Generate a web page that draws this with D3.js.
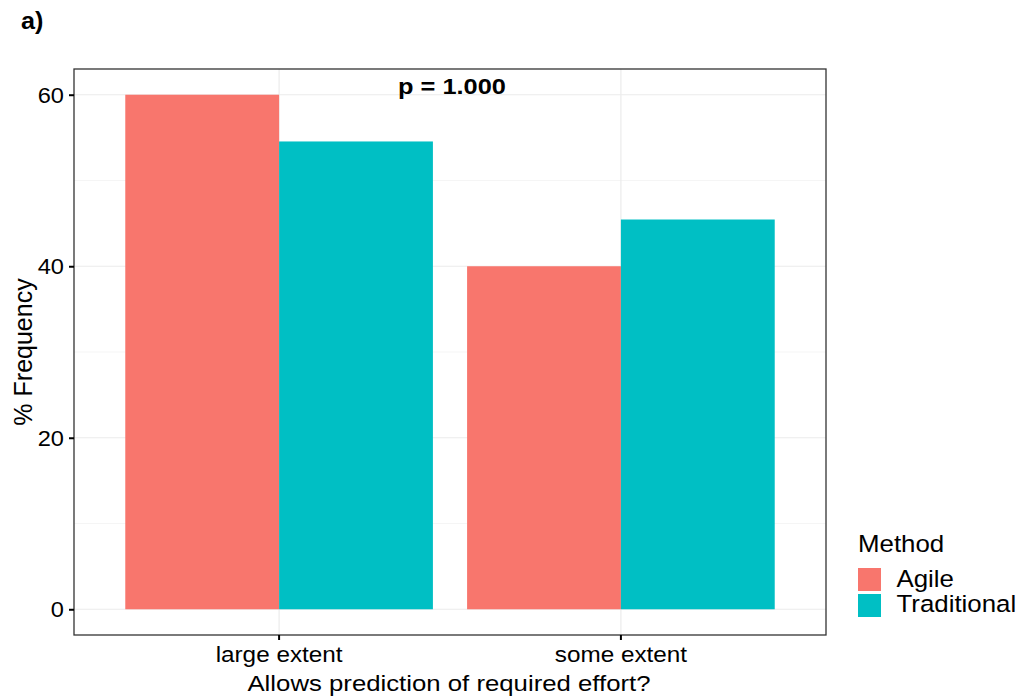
<!DOCTYPE html>
<html>
<head>
<meta charset="utf-8">
<script src="https://cdn.jsdelivr.net/npm/d3@7"></script>
<style>
  html, body { margin: 0; padding: 0; background: #fff; }
  svg { display: block; font-family: "Liberation Sans", Arial, sans-serif; }
</style>
</head>
<body>
<svg id="chart" width="1024" height="697"></svg>
<script>
// Response categories and the share of each method (in %)
const categories = ["large extent", "some extent"];
const methods = ["Agile", "Traditional"];
const agileValues = [60, 40];
const traditionalValues = [54.55, 45.45];
const yTicks = [0, 20, 40, 60];
const yMinorTicks = [10, 30, 50];
const methodColors = ["#F8766D", "#00BFC4"];
const pLabel = "p = 1.000";

const rows = categories.map((c, i) => ({
  category: c,
  values: [
    { method: methods[0], value: agileValues[i] },
    { method: methods[1], value: traditionalValues[i] }
  ]
}));

const svg = d3.select("#chart");
const panel = { left: 74, right: 826, top: 69, bottom: 635 };

// horizontal text is drawn slightly widened
function stretchedText(g, x, y, txt, size, sx, anchor, weight) {
  return g.append("text")
    .attr("transform", `translate(${x},${y}) scale(${sx},1)`)
    .attr("text-anchor", anchor)
    .attr("font-size", size)
    .attr("font-weight", weight || "normal")
    .attr("fill", "#000")
    .text(txt);
}

const x = d3.scaleBand()
  .domain(categories)
  .range([panel.left, panel.right])
  .paddingInner(0.1)
  .paddingOuter(0.15);

const xInner = d3.scaleBand()
  .domain(methods)
  .range([0, x.bandwidth()]);

const y = d3.scaleLinear()
  .domain([-3, 63])
  .range([panel.bottom, panel.top]);

const color = d3.scaleOrdinal().domain(methods).range(methodColors);

// panel background + grid
svg.append("rect")
  .attr("x", panel.left).attr("y", panel.top)
  .attr("width", panel.right - panel.left).attr("height", panel.bottom - panel.top)
  .attr("fill", "#fff");

const grid = svg.append("g");
grid.selectAll("line.minor").data(yMinorTicks).join("line")
  .attr("x1", panel.left).attr("x2", panel.right)
  .attr("y1", d => y(d)).attr("y2", d => y(d))
  .attr("stroke", "#f2f2f2").attr("stroke-width", 0.8);
grid.selectAll("line.major").data(yTicks).join("line")
  .attr("x1", panel.left).attr("x2", panel.right)
  .attr("y1", d => y(d)).attr("y2", d => y(d))
  .attr("stroke", "#ebebeb").attr("stroke-width", 1.2);
grid.selectAll("line.vmajor").data(categories).join("line")
  .attr("x1", d => x(d) + x.bandwidth() / 2).attr("x2", d => x(d) + x.bandwidth() / 2)
  .attr("y1", panel.top).attr("y2", panel.bottom)
  .attr("stroke", "#ebebeb").attr("stroke-width", 1.2);

// bars
svg.append("g").selectAll("g").data(rows).join("g")
  .attr("transform", d => `translate(${x(d.category)},0)`)
  .selectAll("rect").data(d => d.values).join("rect")
  .attr("x", d => xInner(d.method))
  .attr("width", xInner.bandwidth())
  .attr("y", d => y(d.value))
  .attr("height", d => y(0) - y(d.value))
  .attr("fill", d => color(d.method));

// p-value annotation
stretchedText(svg, (panel.left + panel.right) / 2 + 2, 94, pLabel, 21.5, 1.18, "middle", "bold");

// panel border
svg.append("rect")
  .attr("x", panel.left).attr("y", panel.top)
  .attr("width", panel.right - panel.left).attr("height", panel.bottom - panel.top)
  .attr("fill", "none").attr("stroke", "#333").attr("stroke-width", 1.3);

// y axis
const yAxis = svg.append("g")
  .attr("transform", `translate(${panel.left},0)`)
  .call(d3.axisLeft(y).tickValues(yTicks).tickSize(5).tickPadding(4).tickFormat(d3.format("d")));
yAxis.select(".domain").remove();
yAxis.selectAll(".tick line").attr("stroke", "#000").attr("stroke-width", 2);
yAxis.selectAll(".tick text").remove();
yTicks.forEach(t => stretchedText(yAxis, -10, y(t) + 8, String(t), 22.5, 1.05, "end"));

// x axis
const xAxis = svg.append("g")
  .attr("transform", `translate(0,${panel.bottom})`)
  .call(d3.axisBottom(x).tickSize(5));
xAxis.select(".domain").remove();
xAxis.selectAll(".tick line").attr("stroke", "#000").attr("stroke-width", 2);
xAxis.selectAll(".tick text").remove();
categories.forEach(c => stretchedText(xAxis, x(c) + x.bandwidth() / 2, 26.5, c, 22.5, 1.08, "middle"));

// axis titles
stretchedText(svg, 449, 691, "Allows prediction of required effort?", 23, 1.12, "middle");
svg.append("text")
  .attr("transform", `translate(32,${(panel.top + panel.bottom) / 2}) rotate(-90)`)
  .attr("text-anchor", "middle")
  .attr("font-size", 25)
  .attr("fill", "#000")
  .text("% Frequency");

// panel tag
stretchedText(svg, 21, 29, "a)", 24, 1.05, "start", "bold");

// legend
const legend = svg.append("g");
stretchedText(legend, 858, 551.5, "Method", 23.5, 1.1, "start");
methods.forEach((m, i) => {
  legend.append("rect")
    .attr("x", 858).attr("y", 568 + i * 26)
    .attr("width", 23).attr("height", 23)
    .attr("fill", color(m));
  stretchedText(legend, 896.5, 587 + i * 24.5, m, 23.5, 1.1, "start");
});
</script>
</body>
</html>
